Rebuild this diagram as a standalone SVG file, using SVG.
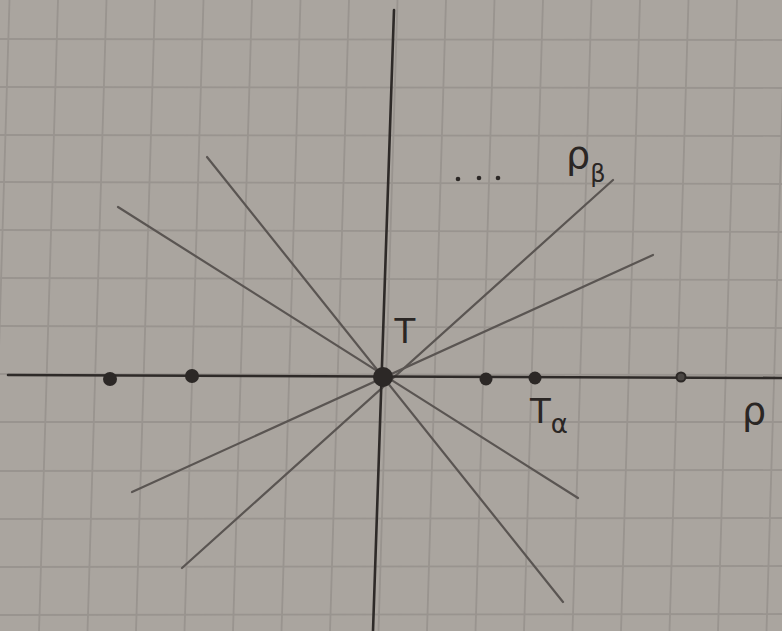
<svg xmlns="http://www.w3.org/2000/svg" width="782" height="631" viewBox="0 0 782 631">
<style>
.grid line{stroke:#99948f;stroke-width:1.8}
.axis{stroke:#2e2a28;stroke-width:2.6;stroke-linecap:round;fill:none}
.ray{stroke:#5a5552;stroke-width:2.2;stroke-linecap:round;fill:none}
.pt{fill:#2c2826}
.lbl{font-family:"DejaVu Sans","Liberation Sans",sans-serif;fill:#2a2624}
</style>
<rect x="0" y="0" width="782" height="631" fill="#aaa59f"/>
<g class="grid" id="grid">
<line x1="9.5" y1="0" x2="-9.5" y2="631"/>
<line x1="58" y1="0" x2="39" y2="631"/>
<line x1="106.5" y1="0" x2="87.5" y2="631"/>
<line x1="155" y1="0" x2="136" y2="631"/>
<line x1="203.5" y1="0" x2="184.5" y2="631"/>
<line x1="252" y1="0" x2="233" y2="631"/>
<line x1="300.5" y1="0" x2="281.5" y2="631"/>
<line x1="349" y1="0" x2="330" y2="631"/>
<line x1="397.5" y1="0" x2="378.5" y2="631"/>
<line x1="446" y1="0" x2="427" y2="631"/>
<line x1="494.5" y1="0" x2="475.5" y2="631"/>
<line x1="543" y1="0" x2="524" y2="631"/>
<line x1="591.5" y1="0" x2="572.5" y2="631"/>
<line x1="640" y1="0" x2="621" y2="631"/>
<line x1="688.5" y1="0" x2="669.5" y2="631"/>
<line x1="737" y1="0" x2="718" y2="631"/>
<line x1="785.5" y1="0" x2="766.5" y2="631"/>
<line x1="0" y1="39" x2="782" y2="40"/>
<line x1="0" y1="87" x2="782" y2="88"/>
<line x1="0" y1="135" x2="782" y2="136"/>
<line x1="0" y1="182" x2="782" y2="184"/>
<line x1="0" y1="230" x2="782" y2="232"/>
<line x1="0" y1="278" x2="782" y2="280"/>
<line x1="0" y1="326" x2="782" y2="328"/>
<line x1="0" y1="374" x2="782" y2="375"/>
<line x1="0" y1="422" x2="782" y2="422"/>
<line x1="0" y1="471" x2="782" y2="470"/>
<line x1="0" y1="519" x2="782" y2="518"/>
<line x1="0" y1="567" x2="782" y2="566"/>
<line x1="0" y1="615" x2="782" y2="614"/>
</g>
<g id="connectors">
<line class="ray" x1="207" y1="157" x2="563" y2="602"/>
<line class="ray" x1="118" y1="207" x2="578" y2="498"/>
<line class="ray" x1="182" y1="568" x2="613" y2="180"/>
<line class="ray" x1="132" y1="492" x2="653" y2="255"/>
<line class="axis" x1="8" y1="375" x2="782" y2="378"/>
<line class="axis" x1="394" y1="10" x2="373" y2="631"/>
</g>
<g id="p1"><circle class="pt" cx="110" cy="379" r="7"/></g>
<g id="p2"><circle class="pt" cx="192" cy="376" r="7"/></g>
<g id="T"><circle class="pt" cx="383" cy="377" r="10"/><text class="lbl" x="405" y="343" font-size="34" text-anchor="middle">T</text></g>
<g id="p3"><circle class="pt" cx="486" cy="379" r="6.5"/></g>
<g id="Talpha"><circle class="pt" cx="535" cy="378" r="6.5"/><text class="lbl" x="530" y="423" font-size="34">T<tspan font-size="26" dy="10">α</tspan></text></g>
<g id="p4"><circle cx="681" cy="377" r="4.5" fill="#4a4643" stroke="#2c2826" stroke-width="2"/></g>
<g id="rho"><text class="lbl" x="742" y="424" font-size="38">ρ</text></g>
<g id="rhobeta"><text class="lbl" x="566" y="168" font-size="38">ρ<tspan font-size="24" dy="14">β</tspan></text></g>
<g id="dots"><circle class="pt" cx="458" cy="179" r="2.3"/><circle class="pt" cx="479" cy="178" r="2.3"/><circle class="pt" cx="498" cy="178" r="2.3"/></g>
</svg>
